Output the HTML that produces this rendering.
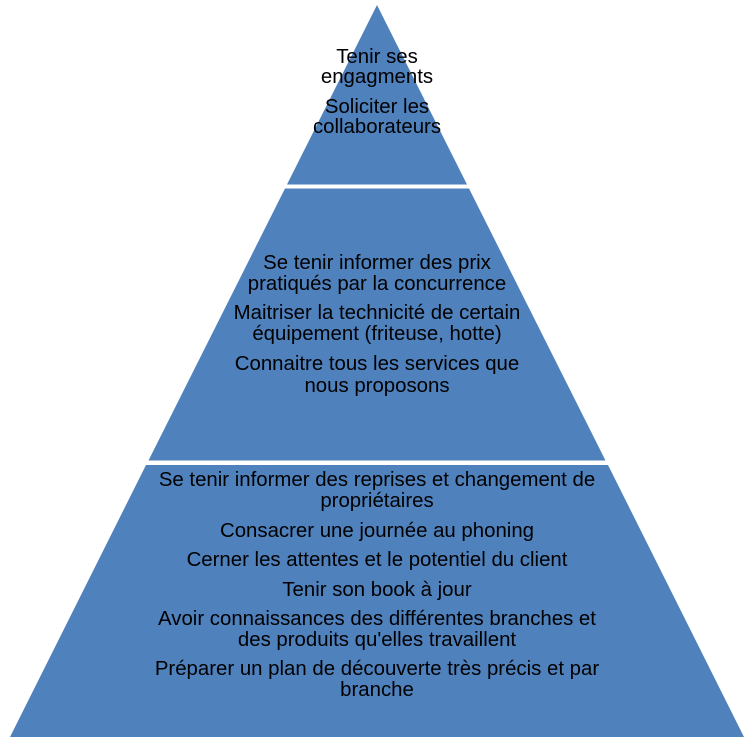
<!DOCTYPE html>
<html><head><meta charset="utf-8"><style>
body{margin:0;width:750px;height:742px;background:#fff;position:relative;overflow:hidden;font-family:"Liberation Sans",Arial,sans-serif}
.t{position:absolute;left:0;width:754px;text-align:center;font-size:20.4px;line-height:20px;color:#000;white-space:nowrap}
</style></head><body>
<svg width="750" height="742" style="position:absolute;left:0;top:0">
<polygon points="377,5 467,184.5 287,184.5" fill="#4F81BD"/>
<polygon points="285,188.5 469,188.5 605.5,460.5 148.5,460.5" fill="#4F81BD"/>
<polygon points="146,465 608,465 744,737 10,737" fill="#4F81BD"/>
</svg>
<div class="t" style="top:47px">Tenir ses</div>
<div class="t" style="top:67px">engagments</div>
<div class="t" style="top:97px">Soliciter les</div>
<div class="t" style="top:117px">collaborateurs</div>
<div class="t" style="top:253px">Se tenir informer des prix</div>
<div class="t" style="top:274px">pratiqués par la concurrence</div>
<div class="t" style="top:303px">Maitriser la technicité de certain</div>
<div class="t" style="top:324px">équipement (friteuse, hotte)</div>
<div class="t" style="top:354px">Connaitre tous les services que</div>
<div class="t" style="top:376px">nous proposons</div>
<div class="t" style="top:470px">Se tenir informer des reprises et changement de</div>
<div class="t" style="top:491px">propriétaires</div>
<div class="t" style="top:521px">Consacrer une journée au phoning</div>
<div class="t" style="top:550px">Cerner les attentes et le potentiel du client</div>
<div class="t" style="top:580px">Tenir son book à jour</div>
<div class="t" style="top:609px">Avoir connaissances des différentes branches et</div>
<div class="t" style="top:630px">des produits qu'elles travaillent</div>
<div class="t" style="top:659px">Préparer un plan de découverte très précis et par</div>
<div class="t" style="top:680px">branche</div>
</body></html>
